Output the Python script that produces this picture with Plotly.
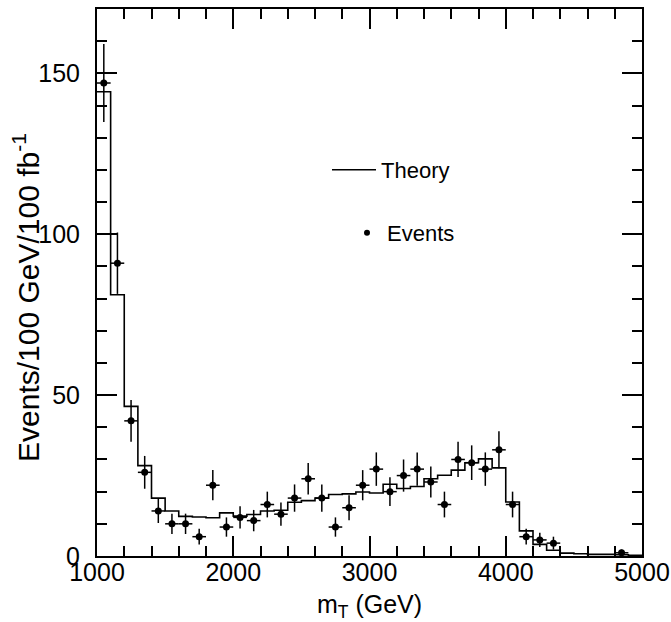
import numpy as np
import plotly.graph_objects as go

# Bin lower edges (GeV), 100 GeV bins
bin_lo = list(range(1000, 5000, 100))
bin_width = 100

# Theory histogram (events / 100 GeV / 100 fb^-1)
theory = [144.3, 81.2, 46.5, 28.1, 18.0, 14.0, 12.3, 12.1, 11.9, 13.4,
          12.4, 12.9, 14.0, 14.2, 16.7, 17.2, 18.0, 19.1, 19.3, 19.9,
          19.6, 22.3, 21.0, 21.6, 24.0, 25.1, 26.7, 29.0, 30.2, 27.4,
          16.8, 7.8, 3.6, 1.8, 0.9, 0.7, 0.5, 0.5, 0.4, 0.2]

# Simulated events per bin
events = [147, 91, 42, 26, 14, 10, 10, 6, 22, 9,
          12, 11, 16, 13, 18, 24, 18, 9, 15, 22,
          27, 20, 25, 27, 23, 16, 30, 29, 27, 33,
          16, 6, 5, 4, 0, 0, 0, 0, 1, 0]

x_ticks = [1000, 2000, 3000, 4000, 5000]
y_ticks = [0, 50, 100, 150]

FONT = "Liberation Sans, Arial, Helvetica, sans-serif"

# plot-area geometry in pixels (for legend placement)
L, R, T, B = 97, 642, 9, 556
PW, PH = R - L, B - T

# step line for theory
step_x = bin_lo + [bin_lo[-1] + bin_width]
step_y = theory + [theory[-1]]

ev_x = [lo + bin_width / 2 for lo, n in zip(bin_lo, events) if n > 0]
ev_y = [n for n in events if n > 0]
ev_err = [float(np.sqrt(n)) for n in ev_y]

fig = go.Figure()
fig.add_trace(go.Scatter(
    x=step_x, y=step_y, mode="lines", line=dict(shape="hv", color="black", width=1.6),
    showlegend=False, hoverinfo="skip"))
fig.add_trace(go.Scatter(
    x=ev_x, y=ev_y, mode="markers",
    marker=dict(color="black", size=7),
    error_y=dict(type="data", array=ev_err, visible=True, color="black", thickness=1.5, width=0),
    error_x=dict(type="constant", value=bin_width / 2, visible=True, color="black", thickness=1.5, width=0),
    showlegend=False))

# legend entries
fig.add_trace(go.Scatter(x=[None], y=[None], mode="lines", line=dict(color="black", width=1.6),
                         name="Theory", legend="legend"))
fig.add_trace(go.Scatter(x=[None], y=[None], mode="markers", marker=dict(color="black", size=6),
                         name="Events", legend="legend2"))

axis_common = dict(
    showgrid=False, zeroline=False, showline=True, linecolor="black", linewidth=2,
    mirror="allticks", ticks="inside", ticklen=20, tickwidth=1.5, tickcolor="black",
    tickfont=dict(family=FONT, size=25, color="black"), automargin=False,
)

fig.update_xaxes(
    range=[1000, 5000], tickvals=x_ticks, ticktext=[str(v) for v in x_ticks], tickangle=0,
    ticklabelstandoff=-7,
    minor=dict(dtick=200, ticks="inside", ticklen=10, tickwidth=1.5, tickcolor="black", showgrid=False),
    title=dict(text="m<sub>T</sub> (GeV)", font=dict(family=FONT, size=25, color="black"), standoff=10),
    **axis_common)
fig.update_yaxes(
    range=[0, 170], tickvals=y_ticks, ticktext=[str(v) for v in y_ticks],
    ticklabelstandoff=10,
    minor=dict(dtick=10, ticks="inside", ticklen=10, tickwidth=1.5, tickcolor="black", showgrid=False),
    **axis_common)

fig.add_annotation(
    text="Events/100 GeV/100 fb<sup>-1</sup>", textangle=-90,
    xref="paper", yref="paper", x=0, y=(B - 298) / PH, xshift=26 - L,
    xanchor="center", yanchor="middle", showarrow=False,
    font=dict(family=FONT, size=30, color="black"))

fig.update_layout(
    width=671, height=622,
    margin=dict(l=L, r=671 - R, t=T, b=622 - B, autoexpand=False),
    paper_bgcolor="white", plot_bgcolor="white",
    font=dict(family=FONT, color="black"),
    legend=dict(x=(327 - L) / PW, y=(B - 170) / PH, xref="paper", yref="paper",
                xanchor="left", yanchor="middle", bgcolor="rgba(0,0,0,0)", itemwidth=44,
                font=dict(family=FONT, size=22, color="black")),
    legend2=dict(x=(347 - L) / PW, y=(B - 233) / PH, xref="paper", yref="paper",
                 xanchor="left", yanchor="middle", bgcolor="rgba(0,0,0,0)",
                 font=dict(family=FONT, size=22, color="black")),
)

fig.write_html("out.html", config={"displayModeBar": False},
               post_script="document.body.style.margin='0px';")
